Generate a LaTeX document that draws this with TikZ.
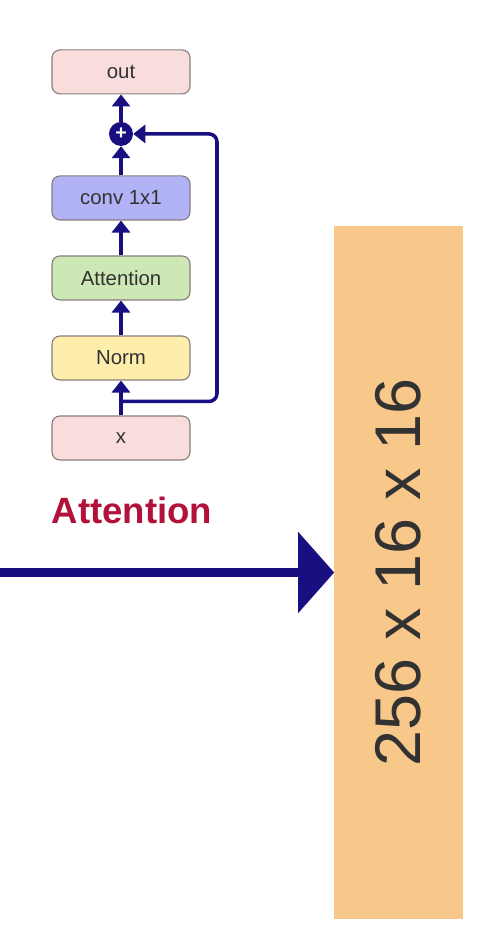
\documentclass[tikz,border=0pt]{standalone}
\usepackage{fontspec}
\setmainfont{Liberation Sans}
\usetikzlibrary{arrows.meta,calc}

\definecolor{navy}{RGB}{24,16,128}
\definecolor{pinkfill}{RGB}{249,220,220}
\definecolor{bluefill}{RGB}{178,178,247}
\definecolor{greenfill}{RGB}{205,232,181}
\definecolor{yellowfill}{RGB}{253,238,172}
\definecolor{boxline}{RGB}{135,125,125}
\definecolor{orangefill}{RGB}{248,199,138}
\definecolor{crimson}{RGB}{178,18,58}
\definecolor{txt}{RGB}{50,50,50}

\tikzstyle{layer} = [rectangle, rounded corners=0.2cm, minimum width=3.45cm, minimum height=1.1cm, text centered, draw=boxline, line width=0.8pt, text=txt, font=\fontsize{14.5}{16}\selectfont]
\tikzstyle{io} = [layer, fill=pinkfill]
\tikzstyle{normbox} = [layer, fill=yellowfill]
\tikzstyle{attnbox} = [layer, fill=greenfill]
\tikzstyle{convbox} = [layer, fill=bluefill]
\tikzstyle{sum} = [circle, fill=navy, minimum size=0.6cm, inner sep=0pt, text=white, font=\bfseries\fontsize{14}{14}\selectfont]
\tikzstyle{arrow} = [navy, line width=2.5pt, -{Triangle[width=0.45cm, length=0.3cm]}]
\tikzstyle{bigarrow} = [navy, line width=7pt, -{Triangle[width=1.98cm, length=0.9cm]}]
\tikzstyle{featmap} = [rectangle, minimum width=3.2cm, minimum height=17.33cm, fill=orangefill, text=txt, font=\fontsize{46}{50}\selectfont]
\tikzstyle{caption} = [text=crimson, font=\bfseries\fontsize{26}{30}\selectfont]

\begin{document}
\begin{tikzpicture}[x=0.025cm, y=-0.025cm, node distance=2cm]
\useasboundingbox (0,0) rectangle (486,932);

\node (x) [io] at (121,438) {x};
\node (norm) [normbox, above of=x] {Norm};
\node (attn) [attnbox, above of=norm] {Attention};
\node (conv) [convbox, above of=attn] {conv 1x1};
\node (plus) [sum, node distance=1.6cm, above of=conv] {+};
\node (out) [io, node distance=1.55cm, above of=plus] {out};

\node (title) [caption] at (132,510) {Attention};
\node (block) [featmap] at (398.5,572.5) {\rotatebox{90}{256 x 16 x 16}};
\coordinate (start) at (0,572.5);
\coordinate (split) at ($(x.north)!0.4!(norm.south)$);

\draw [arrow] (x) -- (norm);
\draw [arrow] (norm) -- (attn);
\draw [arrow] (attn) -- (conv);
\draw [arrow] (conv) -- (plus);
\draw [arrow] (plus) -- (out);
\draw [arrow, rounded corners=0.2cm] (split) -- ++(96,0) |- (plus);
\draw [bigarrow] (start) -- (block.west);

\end{tikzpicture}
\end{document}
